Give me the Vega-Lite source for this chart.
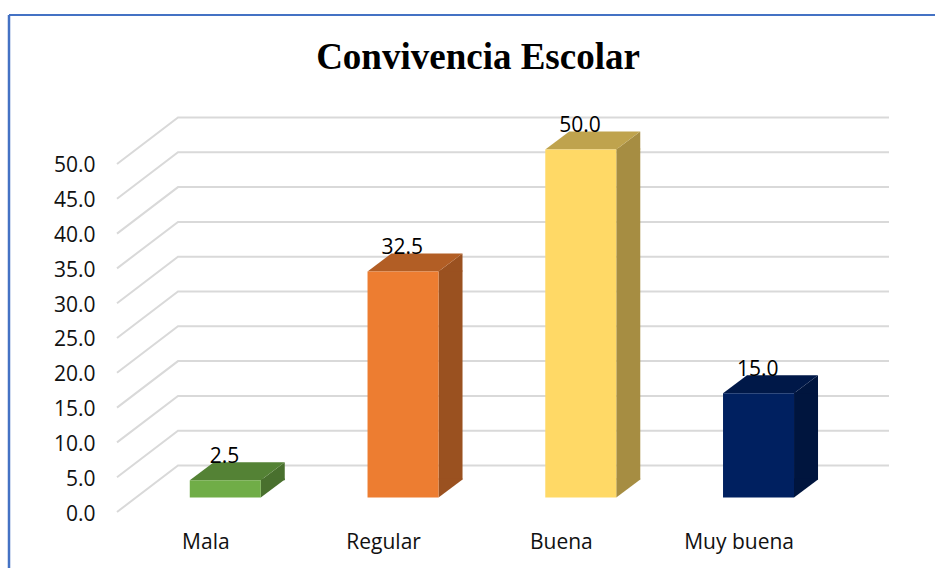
{
"$schema":"https://vega.github.io/schema/vega-lite/v6.json",
"width":772,"height":395,
"autosize":{"type":"none"},
"padding":{"left":117,"top":117,"right":46,"bottom":56},
"background":"white",
"config":{"view":{"stroke":null}},
"title":{"text":"Convivencia Escolar","font":"Liberation Serif","fontWeight":"bold","fontSize":37,"color":"black","anchor":"middle","frame":"group","dx":-25,"offset":-63},
"datasets":{
"barras":[{"categoria":"Mala","valor":2.5},{"categoria":"Regular","valor":32.5},{"categoria":"Buena","valor":50.0},{"categoria":"Muy buena","valor":15.0}],
"marcas":[{"valor":0},{"valor":5},{"valor":10},{"valor":15},{"valor":20},{"valor":25},{"valor":30},{"valor":35},{"valor":40},{"valor":45},{"valor":50}]
},
"data":{"name":"barras"},
"resolve":{"scale":{"color":"independent"}},
"encoding":{
"x":{"field":"categoria","type":"nominal","sort":null,"scale":{"range":[0,711]},"axis":{"title":null,"domain":false,"ticks":false,"labelAngle":0,"labelFont":"Open Sans","labelFontSize":21,"labelColor":"#111111","labelPadding":19,"grid":false}},
"y":{"field":"valor","type":"quantitative","scale":{"domain":[0,56.75],"nice":false},"axis":{"title":null,"values":[0,5,10,15,20,25,30,35,40,45,50],"format":".1f","domain":false,"ticks":false,"grid":false,"labelFont":"Open Sans","labelFontSize":21,"labelColor":"#111111","labelPadding":22,"labelOffset":2}}
},
"layer":[
{"data":{"values":[{}]},"mark":{"type":"rule","stroke":"#4472c4","strokeWidth":2.5},"encoding":{"x":{"value":-108},"y":{"value":-102},"y2":{"value":451}}},
{"data":{"values":[{}]},"mark":{"type":"rule","stroke":"#4472c4","strokeWidth":2},"encoding":{"x":{"value":-108},"x2":{"value":818},"y":{"value":-102}}},
{"data":{"name":"marcas"},"mark":{"type":"point","shape":"M0,0L61,-46.5L772,-46.5","size":4,"filled":false,"stroke":"#d9d9d9","strokeWidth":2,"opacity":1},"encoding":{"x":{"value":0}}},
{"mark":{"type":"bar","width":24,"xOffset":66.9,"yOffset":-15.4,"y2Offset":-32.4},"encoding":{"y2":{"datum":0},"color":{"field":"categoria","type":"nominal","sort":null,"legend":null,"scale":{"domain":["Mala","Regular","Buena","Muy buena"],"range":["#49702e","#9a5120","#a68d42","#00153e"]}}}},
{"mark":{"type":"point","shape":"M54.9,-14.4L78.9,-32.4L78.9,-14.4Z","size":4,"filled":true,"opacity":1,"strokeWidth":0},"encoding":{"color":{"field":"categoria","type":"nominal","sort":null,"legend":null,"scale":{"domain":["Mala","Regular","Buena","Muy buena"],"range":["#49702e","#9a5120","#a68d42","#00153e"]}}}},
{"mark":{"type":"point","shape":"M54.9,-14.4L78.9,-32.4L78.9,-33.4L54.9,-33.4Z","size":4,"filled":true,"opacity":1,"strokeWidth":0},"encoding":{"y":{"datum":0},"color":{"field":"categoria","type":"nominal","sort":null,"legend":null,"scale":{"domain":["Mala","Regular","Buena","Muy buena"],"range":["#49702e","#9a5120","#a68d42","#00153e"]}}}},
{"mark":{"type":"point","shape":"M-16.1,-14.4L54.9,-14.4L78.9,-32.4L7.9,-32.4Z","size":4,"filled":true,"opacity":1,"strokeWidth":0},"encoding":{"color":{"field":"categoria","type":"nominal","sort":null,"legend":null,"scale":{"domain":["Mala","Regular","Buena","Muy buena"],"range":["#548235","#b25e25","#bfa34d","#001848"]}}}},
{"mark":{"type":"bar","width":71,"xOffset":19.4,"yOffset":-14.4,"y2Offset":-14.4},"encoding":{"y2":{"datum":0},"color":{"field":"categoria","type":"nominal","sort":null,"legend":null,"scale":{"domain":["Mala","Regular","Buena","Muy buena"],"range":["#70ad47","#ed7d31","#ffd966","#002060"]}}}},
{"mark":{"type":"text","font":"Open Sans","fontSize":21,"color":"black","dx":18.6,"dy":-38,"baseline":"middle"},"encoding":{"text":{"field":"valor","type":"quantitative","format":".1f"}}}
]
}
